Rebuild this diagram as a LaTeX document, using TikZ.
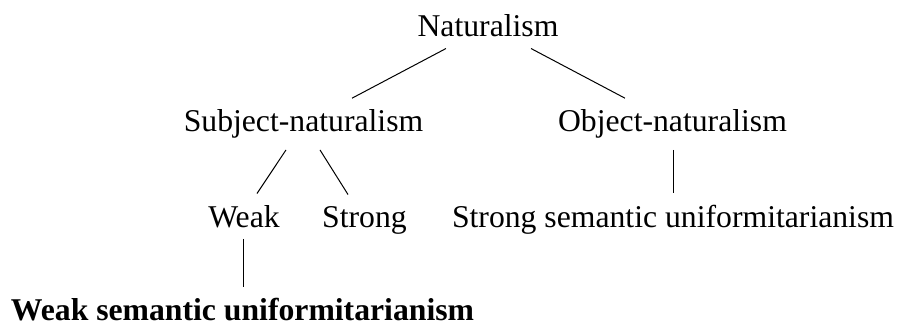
\documentclass[tikz,border=0pt]{standalone}
\usepackage{fontspec}
\setmainfont{Liberation Serif}

\begin{document}
\begin{tikzpicture}[x=1pt,y=-1pt]
\useasboundingbox (0,0) rectangle (897,324);
\begin{scope}[every node/.style={anchor=base,inner xsep=2pt,inner ysep=11.3pt,
              font=\fontsize{31.7}{38}\selectfont}]
    \node (nat) at (488,36.7) {Naturalism};
    \node (subj) at (303.5,131.7) {Subject-naturalism};
    \node (obj) at (672.5,131.7) {Object-naturalism};
    \node (weak) at (244,227) {Weak};
    \node (strong) at (364.5,227) {Strong};
    \node (ssu) at (673,227) {Strong semantic uniformitarianism};
    \node (wsu) at (242.5,320.7) {\bfseries Weak semantic uniformitarianism};
\end{scope}

\begin{scope}[every edge/.style={draw=black,line width=1pt}]
    \path ([xshift=-42]nat.south) edge ([xshift=48.5]subj.north);
    \path ([xshift=43]nat.south) edge ([xshift=-47.5]obj.north);
    \path ([xshift=-17.5]subj.south) edge ([xshift=13]weak.north);
    \path ([xshift=16.5]subj.south) edge ([xshift=-16.5]strong.north);
    \path ([xshift=0.5]obj.south) edge (ssu.north);
    \path ([xshift=-1]weak.south) edge ([xshift=0.5]wsu.north);
\end{scope}
\end{tikzpicture}
\end{document}
